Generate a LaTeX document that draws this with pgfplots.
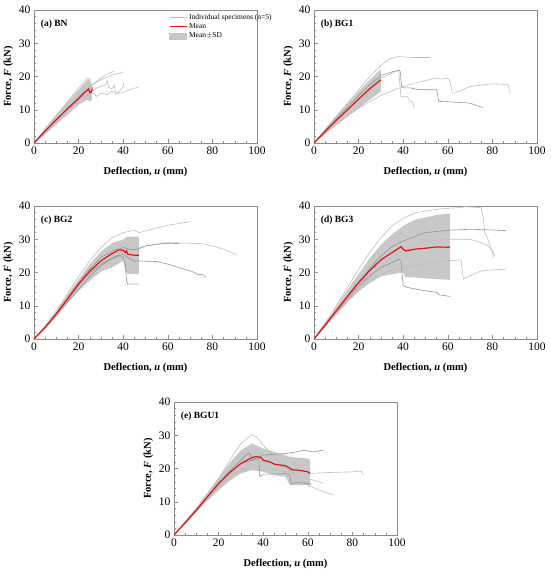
\documentclass[border=0pt]{standalone}
\usepackage{fontspec}
\setmainfont{Liberation Serif}
\usepackage{pgfplots}
\pgfplotsset{compat=1.18}
\definecolor{spec}{RGB}{190,190,190}
\definecolor{specd}{RGB}{150,150,150}
\definecolor{meanred}{RGB}{225,20,20}
\definecolor{band}{RGB}{200,200,200}
\definecolor{frame}{RGB}{140,140,140}
\pgfplotsset{
  panel/.style={
    width=223pt,height=133pt,scale only axis,anchor=south west,
    xmin=0,xmax=100,ymin=0,ymax=40,
    xtick={0,20,...,100}, ytick={0,10,...,40},
    minor x tick num=3, minor y tick num=4,
    tick align=inside, tick pos=left,
    axis line style={frame},
    major tick length=3.5pt, minor tick length=2pt,
    every tick/.style={frame},
    tick label style={font=\fontsize{11.5}{13}\selectfont},
    /pgf/number format/assume math mode=true,
    xlabel={Deflection, \textit{u} (mm)},
    ylabel={Force, \textit{F} (kN)},
    label style={font=\bfseries\fontsize{10.5}{12}\selectfont},
    xlabel style={yshift=-6pt},
    ylabel style={yshift=-1pt},
  },
  sp/.style={spec, line width=0.6pt, forget plot},
  spd/.style={specd, line width=0.6pt, forget plot},
  mn/.style={meanred, line width=1.2pt, forget plot},
  bd/.style={fill=band, draw=none, forget plot},
}
\newcommand{\ptitle}[1]{\node[anchor=north west,font=\bfseries\fontsize{9.5}{11}\selectfont,inner sep=0pt] at (rel axis cs:0.03,0.93) {#1};}
\begin{document}
\begin{tikzpicture}
\useasboundingbox (0,0) rectangle (550pt,574pt);
% (a) BN
\begin{axis}[panel, at={(34pt,431pt)},
  legend style={draw=none, fill=none, at={(0.6,0.99)}, anchor=north west,
    font=\fontsize{7.5}{8}\selectfont, row sep=-1.5pt, inner sep=1pt},
  legend cell align=left]
\addlegendimage{spec, line width=0.8pt}
\addlegendentry{Individual specimens (n=5)}
\addlegendimage{meanred, line width=1pt}
\addlegendentry{Mean}
\addlegendimage{area legend, fill=band, draw=band}
\addlegendentry{Mean$\pm$SD}
\addplot[bd] coordinates {(0,0)(5,4.5)(10,8.5)(15,12.3)(20,16)(24,19)(25,19.2)(26,17.5)(26,13)(25,12.5)(24,13)(20,11.5)(15,8.5)(10,5.5)(5,2.6)(0,0)} -- cycle;
\addplot[sp] coordinates {(0,0)(10,8.3)(20,16.5)(24,19.5)(24.8,19.5)(25,13.5)(25.3,14)};
\addplot[sp] coordinates {(0,0)(10,7)(20,14)(25,16.8)(30,19.6)(33,20.8)(36,21.6)};
\addplot[sp] coordinates {(0,0)(10,7)(20,14.2)(25,17)(30,19)(35,20.4)(40,21.3)};
\addplot[sp] coordinates {(0,0)(10,6.8)(20,13.5)(25,15.2)(28,16.5)(32,17.5)(33,18.6)(33.3,16.8)(35,16.3)(36,17.4)(36.5,15.4)(38,15.2)(40,17)(40.3,18)};
\addplot[sp] coordinates {(0,0)(10,6.5)(20,13)(25,14.6)(27,15)(28,14)(30,15)(33,14.5)(35,15.6)(37,14.8)(40,15.2)(43,16)(47,16.9)};
\addplot[mn] coordinates {(0,0)(5,3.6)(10,7)(15,10.3)(20,13.4)(23,15.4)(24,16)(24.5,16.3)(25,15.2)(25.7,15.3)(26,15.9)(26,15.5)};
\ptitle{(a) BN}
\end{axis}
% (b) BG1
\begin{axis}[panel, at={(314pt,431pt)}]
\addplot[bd] coordinates {(0,0)(5,4.3)(10,8.2)(15,11.9)(20,15.5)(25,19)(30,22.2)(30,15.5)(25,13)(20,10.5)(15,8)(10,5.5)(5,2.8)(0,0)} -- cycle;
\addplot[sp] coordinates {(0,0)(5,3.9)(10,8)(15,12)(20,16)(25,20)(30,23.3)(33,24.9)(35,25.6)(38,26)(45,25.7)(52,25.7)};
\addplot[spd] coordinates {(0,0)(10,7.3)(20,14.3)(25,17.5)(30,20.3)(35,21.4)(38,22)(38.7,21.5)(39.3,17)(40,16.6)(43,16.6)(47,16)(55,16)(56,12.5)(60,12.4)(70,12)(74,11)(76,10.7)};
\addplot[sp] coordinates {(0,0)(10,7)(20,14)(25,17)(30,19.5)(36,21.3)(38,21.8)(39,14)(42,14)(43,12.5)(44,12.5)(45,10.5)};
\addplot[sp] coordinates {(0,0)(10,5.5)(20,10.5)(30,14.3)(38,16.5)(45,18)(50,18.8)(55,19.5)(57,19.2)(60,19.5)(61,18.5)(62,15)(63,15)(70,17)(80,17.8)(87,17.6)(88,15)};
\addplot[mn] coordinates {(0,0)(5,3.5)(10,6.8)(15,10)(20,13.2)(25,16.3)(30,19)};
\ptitle{(b) BG1}
\end{axis}
% (c) BG2
\begin{axis}[panel, at={(34pt,235pt)}]
\addplot[bd] coordinates {(0,0)(5,3.8)(10,8.2)(15,13.3)(20,18)(25,22.5)(30,26.3)(35,28.8)(40,30)(41,30.5)(42,30.8)(47,30.8)(47,19.5)(42,19.5)(41,20.5)(40,23.5)(35,21.5)(30,20.3)(25,17.5)(20,14.5)(15,10.8)(10,6.8)(5,3.3)(0,0)} -- cycle;
\addplot[sp] coordinates {(0,0)(5,4)(10,8.5)(15,13.6)(20,18.8)(25,23.5)(30,27.5)(35,30.5)(40,32)(45,32.7)(47,32)(50,32.5)(60,34.2)(70,35.3)};
\addplot[spd] coordinates {(0,0)(5,3.5)(10,7.5)(15,12)(20,16.3)(25,19.8)(30,22.5)(35,24.4)(38,25.3)(40,24.5)(41,22)(41.5,17.5)(42,16.5)(44,16.5)(47,16.5)};
\addplot[spd] coordinates {(0,0)(5,3.3)(10,7)(15,11)(20,15)(25,18.8)(30,22)(35,24.2)(40,25.5)(42,24.5)(45,23.5)(55,23.3)(60,22.5)(65,21.5)(70,20.5)(72,20)(73,19.5)(76,19.3)(77,18.5)};
\addplot[sp] coordinates {(0,0)(5,3.4)(10,7.3)(15,11.6)(20,16)(25,20)(30,23.5)(35,25.5)(40,26.5)(45,27)(50,28)(60,29)(70,28.8)(75,28.7)(80,28)(85,27)(91,25.3)};
\addplot[spd] coordinates {(0,0)(5,3.6)(10,7.6)(15,12.2)(20,17)(25,21)(30,24.5)(35,26.5)(40,27.5)(43,27)(46,26.8)(50,28)(55,28.5)(60,28.8)(65,28.7)};
\addplot[mn] coordinates {(0,0)(5,3.5)(10,7.6)(15,12)(20,16.5)(25,20.4)(30,23.5)(35,25.7)(38,26.8)(40,26.7)(41,26)(41.5,26.5)(42,25.5)(43,25.4)(45,25.2)(47,25.2)};
\ptitle{(c) BG2}
\end{axis}
% (d) BG3
\begin{axis}[panel, at={(314pt,235pt)}]
\addplot[bd] coordinates {(0,0)(5,4.7)(10,9.7)(15,14.8)(20,19.5)(25,24.3)(30,28.3)(35,31.5)(40,34)(45,35.8)(50,36.6)(55,37.3)(61,37.7)(61,17.8)(55,18)(45,18.5)(41,18.5)(40,20)(35,19.5)(30,18.8)(25,16.8)(20,14.3)(15,11)(10,7.5)(5,3.8)(0,0)} -- cycle;
\addplot[sp] coordinates {(0,0)(5,4.9)(10,10)(15,15.5)(20,21)(25,26)(30,30.5)(35,34)(40,36.3)(45,37.8)(50,38.5)(55,39)(60,39.3)(65,39.5)(68,39.8)(75,39.5)(76,36)(76.5,32)(78,30)(79,28)(80,26)(80.5,24.5)};
\addplot[spd] coordinates {(0,0)(5,4.2)(10,8.5)(15,12.8)(20,17)(25,21.2)(30,25)(35,27.8)(40,29.5)(50,32)(60,32.7)(70,33)(80,32.8)(86,32.6)};
\addplot[sp] coordinates {(0,0)(5,3.7)(10,7.5)(15,11.3)(20,15)(25,18.7)(30,22)(35,24.6)(40,26.5)(50,29.5)(60,30)(70,30)(75,29)(78,28)(80,26.5)(81,25)};
\addplot[spd] coordinates {(0,0)(5,4)(10,8)(15,12)(20,16)(25,19)(30,21.5)(35,23)(38,24)(39,23.5)(40,16)(42,15.5)(50,14.5)(55,14)(56,13.3)(61,12.8)};
\addplot[sp] coordinates {(0,0)(5,3.9)(10,7.8)(15,11.8)(20,15.5)(25,17.8)(30,19.5)(35,20.7)(40,21.5)(50,22.5)(60,23.5)(66,23.8)(67,18)(70,19)(75,20.5)(80,20.8)(86,21)};
\addplot[mn] coordinates {(0,0)(5,4.2)(10,8.5)(15,12.8)(20,17)(25,20.6)(30,23.8)(35,26)(38,27.3)(39,27.8)(40,27)(41,26.5)(45,27)(50,27.3)(55,27.7)(60,27.6)(61,27.7)};
\ptitle{(d) BG3}
\end{axis}
% (e) BGU1
\begin{axis}[panel, at={(174pt,39pt)}]
\addplot[bd] coordinates {(0,0)(5,3.9)(10,8)(15,12.6)(20,17.3)(25,21.7)(30,25.5)(35,27.5)(40,26)(45,25)(50,24)(52,23.5)(60,23)(61,22.5)(61,14.5)(60,15)(52,15)(50,17.5)(45,18)(40,19)(35,19.5)(30,18.5)(25,16.3)(20,13.5)(15,10.3)(10,7)(5,3.4)(0,0)} -- cycle;
\addplot[sp] coordinates {(0,0)(5,3.9)(10,8)(15,12.4)(20,17)(25,22.5)(30,27.5)(35,30.2)(37,29.5)(40,27)(45,23.5)(50,20)(55,17.5)(60,15)(65,13.5)(72,12)};
\addplot[spd] coordinates {(0,0)(5,3.7)(10,7.5)(15,11.5)(20,15.5)(25,19.3)(30,22.5)(33,24.5)(34,24.5)(35,22.5)(40,24)(45,24.3)(50,24.5)(55,25)(58,25.5)(60,25.3)(62,25)(67,25.5)};
\addplot[spd] coordinates {(0,0)(5,3.7)(10,7.5)(15,11.5)(20,15.5)(25,18.8)(30,21.5)(38,23)(38.5,17.5)(40,18.3)(45,18.3)(50,18.5)(52,18)(52.5,15.3)(55,15.8)(60,15.5)(62,15.3)};
\addplot[sp] coordinates {(0,0)(5,3.4)(10,7)(15,10.8)(20,14.5)(25,17.3)(30,19.5)(35,21)(40,22)(45,21.5)(50,20)(55,18)(60,17)(65,16)(67,15.5)};
\addplot[sp] coordinates {(0,0)(5,3.5)(10,7.2)(15,11.2)(20,15)(25,17.8)(30,20)(35,20.5)(40,20.5)(50,19)(55,18.8)(60,18.5)(70,18.8)(80,19)(84,19.2)(85,18)};
\addplot[mn] coordinates {(0,0)(5,3.7)(10,7.5)(15,11.5)(20,15.5)(25,18.8)(30,21.5)(35,23.3)(37,23.6)(39,23.3)(40,22.5)(43,22)(45,21.3)(50,20.8)(52,20)(53,19.6)(56,19.5)(60,19)(61,18.5)};
\ptitle{(e) BGU1}
\end{axis}
\end{tikzpicture}
\end{document}
